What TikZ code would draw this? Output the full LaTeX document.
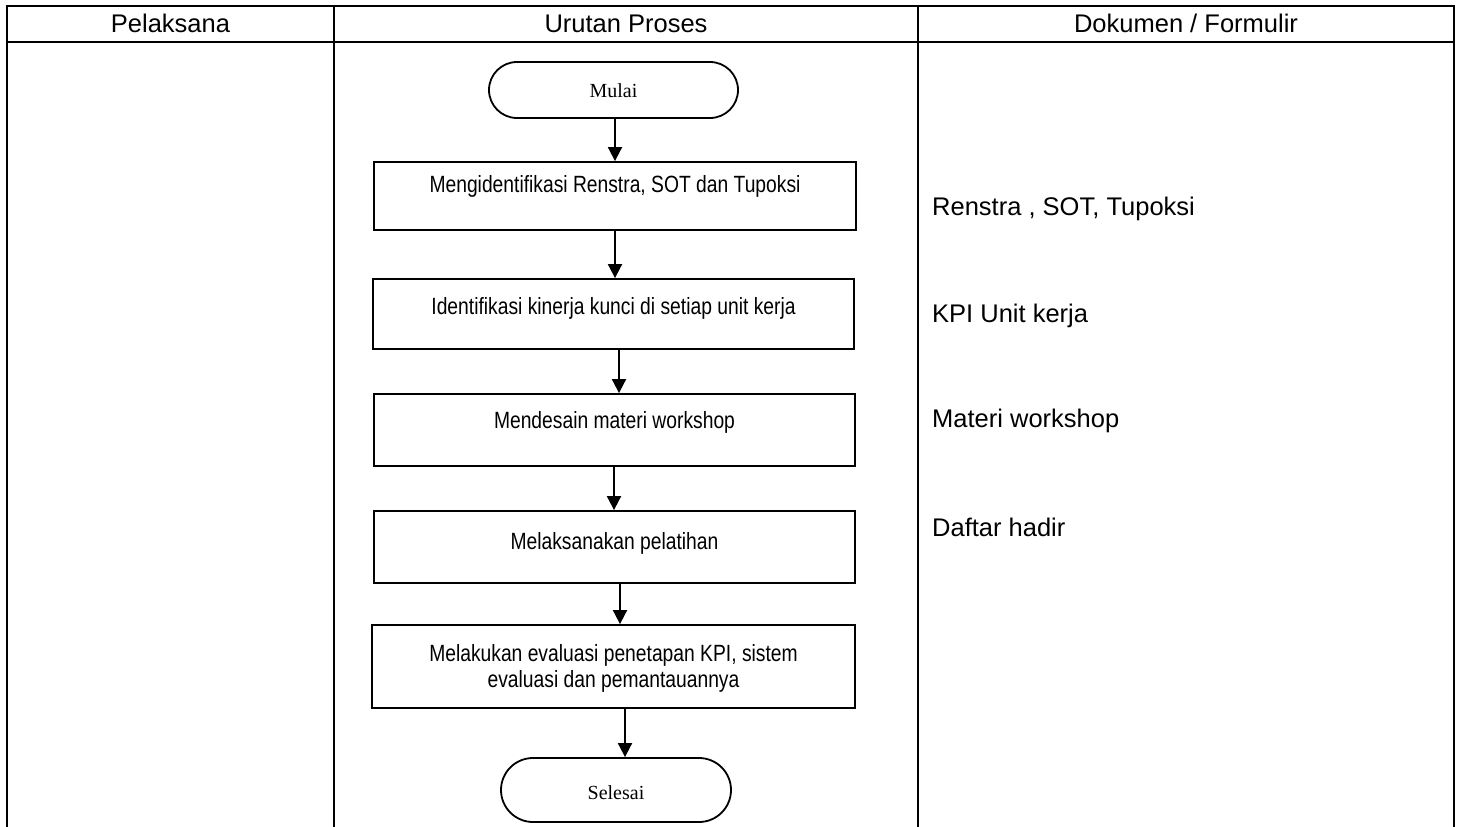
\documentclass[tikz,border=0pt]{standalone}
\usepackage{fontspec}
\setmainfont{Liberation Sans}
\newfontfamily\narrowfont[FakeStretch=0.82]{Liberation Sans}
\newfontfamily\termfont{Liberation Serif}
\usetikzlibrary{arrows.meta}
\begin{document}
\begin{tikzpicture}[x=1pt,y=-1pt,
  grid/.style={line width=2pt},
  stepbox/.style={draw, line width=1.8pt, inner sep=0pt},
  terminal/.style={draw, line width=1.8pt, inner sep=0pt},
  steptext/.style={font=\narrowfont\fontsize{23.5}{26}\selectfont, anchor=base, align=center, inner sep=0pt},
  termtext/.style={font=\termfont\fontsize{20}{24}\selectfont, anchor=base, inner sep=0pt},
  headtext/.style={font=\fontsize{25.5}{30}\selectfont, anchor=base, inner sep=0pt},
  doctext/.style={font=\fontsize{25.5}{30}\selectfont, anchor=base west, inner sep=0pt},
  flow/.style={line width=1.8pt, -{Triangle[width=14pt,length=14pt]}}
]
\useasboundingbox (0,0) rectangle (1462,827);

% table frame
\draw[grid] (7,827) -- (7,6) -- (1454,6) -- (1454,827);
\draw[grid] (7,42) -- (1454,42);
\draw[grid] (334,6) -- (334,827);
\draw[grid] (918,6) -- (918,827);

% column headings
\node[headtext] (h1) at (170.5,32) {Pelaksana};
\node[headtext] (h2) at (626,32) {Urutan Proses};
\node[headtext] (h3) at (1186,32) {Dokumen / Formulir};

% process steps
\node[terminal, rounded corners=28pt, minimum width=249pt, minimum height=56pt] (m1) at (613.5,90) {};
\node[termtext] (m1t) at (613.5,97) {Mulai};

\node[stepbox, minimum width=482pt, minimum height=68pt] (b1) at (615,196) {};
\node[steptext] (b1t) at (615,192) {Mengidentifikasi Renstra, SOT dan Tupoksi};

\node[stepbox, minimum width=481pt, minimum height=70pt] (b2) at (613.5,314) {};
\node[steptext] (b2t) at (613.5,314) {Identifikasi kinerja kunci di setiap unit kerja};

\node[stepbox, minimum width=481pt, minimum height=72pt] (b3) at (614.5,430) {};
\node[steptext] (b3t) at (614.5,428) {Mendesain materi workshop};

\node[stepbox, minimum width=481pt, minimum height=72pt] (b4) at (614.5,547) {};
\node[steptext] (b4t) at (614.5,549) {Melaksanakan pelatihan};

\node[stepbox, minimum width=483pt, minimum height=83pt] (b5) at (613.5,666.5) {};
\node[steptext] (b5t) at (613.5,687) {Melakukan evaluasi penetapan KPI, sistem\\evaluasi dan pemantauannya};

\node[terminal, rounded corners=32pt, minimum width=230pt, minimum height=64pt] (m2) at (616,790) {};
\node[termtext] (m2t) at (616,799) {Selesai};

% connectors
\draw[flow] (b1.north |- m1.south) -- (b1.north);
\draw[flow] (b1.south) -- (b1.south |- b2.north);
\draw[flow] ([xshift=5.5pt]b2.south) -- ([xshift=5.5pt]b2.south |- b3.north);
\draw[flow] ([xshift=-0.5pt]b3.south) -- ([xshift=-0.5pt]b3.south |- b4.north);
\draw[flow] ([xshift=5.5pt]b4.south) -- ([xshift=5.5pt]b4.south |- b5.north);
\draw[flow] ([xshift=11.5pt]b5.south) -- ([xshift=11.5pt]b5.south |- m2.north);

% documents
\node[doctext] (d1) at (932,215) {Renstra , SOT, Tupoksi};
\node[doctext] (d2) at (932,322) {KPI Unit kerja};
\node[doctext] (d3) at (932,427) {Materi workshop};
\node[doctext] (d4) at (932,536) {Daftar hadir};
\end{tikzpicture}
\end{document}
